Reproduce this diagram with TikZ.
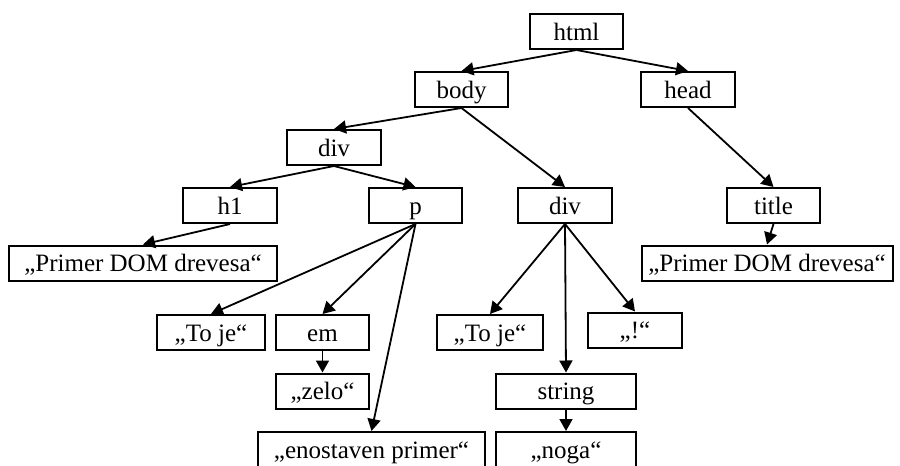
\documentclass[tikz,border=0pt]{standalone}
\usepackage{fontspec}
\setmainfont{Liberation Serif}
\usetikzlibrary{arrows.meta}
\begin{document}
\begin{tikzpicture}[x=1pt,y=-1pt,
  box/.style={draw,line width=2pt,inner xsep=0pt,inner ysep=0pt,
    text height=26pt,text depth=9pt,
    font=\fontsize{25}{28}\selectfont},
  link/.style={line width=1.8pt,-{Triangle[length=12pt,width=13pt]}}]
\useasboundingbox (0,0) rectangle (900,466);
\clip (0,0) rectangle (900,466);
\fill[white] (0,0) rectangle (900,466);
% element nodes
\node[box,minimum width=93pt] (html) at (576.5,31.5) {html};
\node[box,minimum width=93pt] (body) at (461.5,89.5) {body};
\node[box,minimum width=94pt] (head) at (688,89.5) {head};
\node[box,minimum width=94pt] (divA) at (334,147.5) {div};
\node[box,minimum width=94pt] (h1) at (230,205.5) {h1};
\node[box,minimum width=93pt] (p) at (415.5,205.5) {p};
\node[box,minimum width=94pt] (divB) at (565,205.5) {div};
\node[box,minimum width=93pt] (title) at (773.5,205.5) {title};
\node[box,minimum width=93pt] (em) at (322.5,332.5) {em};
\node[box,minimum width=140pt] (string) at (566,391) {string};
% text nodes
\node[box,minimum width=268pt] (primA) at (143,263) {„Primer DOM drevesa“};
\node[box,minimum width=251pt] (primB) at (767,263) {„Primer DOM drevesa“};
\node[box,minimum width=108pt] (tojeA) at (211,332.5) {„To je“};
\node[box,minimum width=106pt] (tojeB) at (490,332.5) {„To je“};
\node[box,minimum width=94pt] (excl) at (635,330) {„!“};
\node[box,minimum width=93pt] (zelo) at (322.5,391) {„zelo“};
\node[box,minimum width=227pt] (enost) at (371.5,449.5) {„enostaven primer“};
\node[box,minimum width=140pt] (noga) at (566,449.5) {„noga“};
% tree edges
\draw[link] (html.south) -- (body.north);
\draw[link] (html.south) -- (head.north);
\draw[link] (body.south) -- (divA.north);
\draw[link] (body.south) -- (divB.north);
\draw[link] (head.south) -- (title.north);
\draw[link] (divA.south) -- (h1.north);
\draw[link] (divA.south) -- (p.north);
\draw[link] (h1.south) -- (primA.north);
\draw[link] (title.south) -- (primB.north);
\draw[link] (p.south) -- (tojeA.north);
\draw[link] (p.south) -- (em.north);
\draw[link] (p.south) -- (enost.north);
\draw[link] (em.south) -- (zelo.north);
\draw[link] (divB.south) -- (tojeB.north);
\draw[link] (divB.south) -- (string.north);
\draw[link] (divB.south) -- (excl.north);
\draw[link] (string.south) -- (noga.north);
\end{tikzpicture}
\end{document}
